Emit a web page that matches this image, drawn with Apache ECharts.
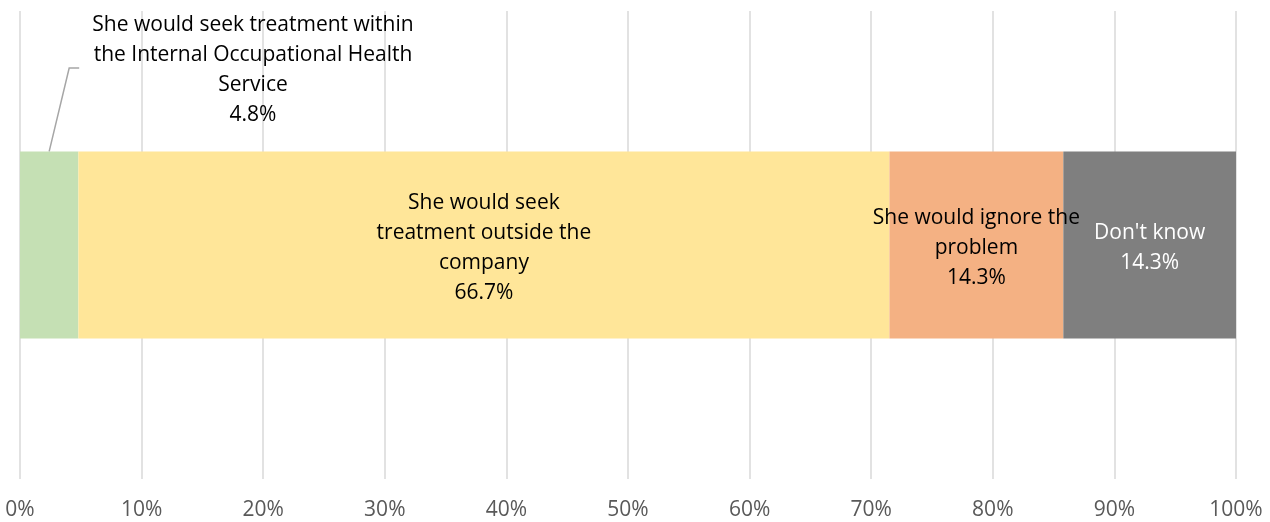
<!DOCTYPE html>
<html><head><meta charset="utf-8">
<script src="https://cdn.jsdelivr.net/npm/echarts@6/dist/echarts.min.js"></script>
<style>html,body{margin:0;padding:0;background:#fff}#c{width:1270px;height:522px}</style>
</head><body><div id="c"></div>
<script>
const categories = ['Response'];
const seriesNames = [
  'She would seek treatment within\nthe Internal Occupational Health\nService',
  'She would seek\ntreatment outside the\ncompany',
  'She would ignore the\nproblem',
  "Don't know"
];
const valuesInternal = [4.8];
const valuesOutside = [66.7];
const valuesIgnore = [14.3];
const valuesDontKnow = [14.3];
const tickLabels = ['0%','10%','20%','30%','40%','50%','60%','70%','80%','90%','100%'];

const colors = ['#C5E0B4', '#FFE699', '#F4B183', '#7F7F7F'];
const labelColors = ['#000000', '#000000', '#000000', '#FFFFFF'];
const FONT = 'Open Sans';
const allValues = [valuesInternal, valuesOutside, valuesIgnore, valuesDontKnow];

const chart = echarts.init(document.getElementById('c'), null, {renderer: 'canvas'});
const series = allValues.map((vals, i) => ({
  name: seriesNames[i],
  type: 'bar',
  stack: 'total',
  barWidth: '40%',
  data: vals,
  itemStyle: {color: colors[i]},
  label: {
    show: true,
    position: i === 0 ? [233, -81] : 'inside',
    offset: i === 0 ? [0, 0] : [0, 3],
    align: 'center',
    verticalAlign: 'middle',
    color: labelColors[i],
    fontFamily: FONT,
    fontSize: 21,
    lineHeight: 30,
    formatter: p => p.seriesName + '\n' + p.value.toFixed(1) + '%'
  }
}));

chart.setOption({
  animation: false,
  grid: {left: 20, right: 34, top: 11, bottom: 43},
  xAxis: {
    type: 'value', min: 0, max: 100, interval: 10,
    axisLine: {show: false}, axisTick: {show: false},
    splitLine: {show: true, lineStyle: {color: '#D9D9D9', width: 1.5}},
    axisLabel: {
      color: '#595959', fontFamily: FONT, fontSize: 21, margin: 21,
      formatter: v => tickLabels[Math.round(v / 10)]
    }
  },
  yAxis: {
    type: 'category', data: categories,
    axisLine: {show: false}, axisTick: {show: false}, axisLabel: {show: false}
  },
  series: series
});

// leader line for the first (small) segment label
const mid = chart.convertToPixel({gridIndex: 0}, [valuesInternal[0] / 2, 0]);
const barTop = mid[1] - 0.4 * 468 / 2;
chart.setOption({
  graphic: [{
    type: 'polyline',
    shape: {points: [[mid[0], barTop], [mid[0] + 20, 68], [mid[0] + 30, 68]]},
    style: {stroke: '#A6A6A6', lineWidth: 1.5, fill: null},
    z: 100
  }]
});
</script></body></html>
